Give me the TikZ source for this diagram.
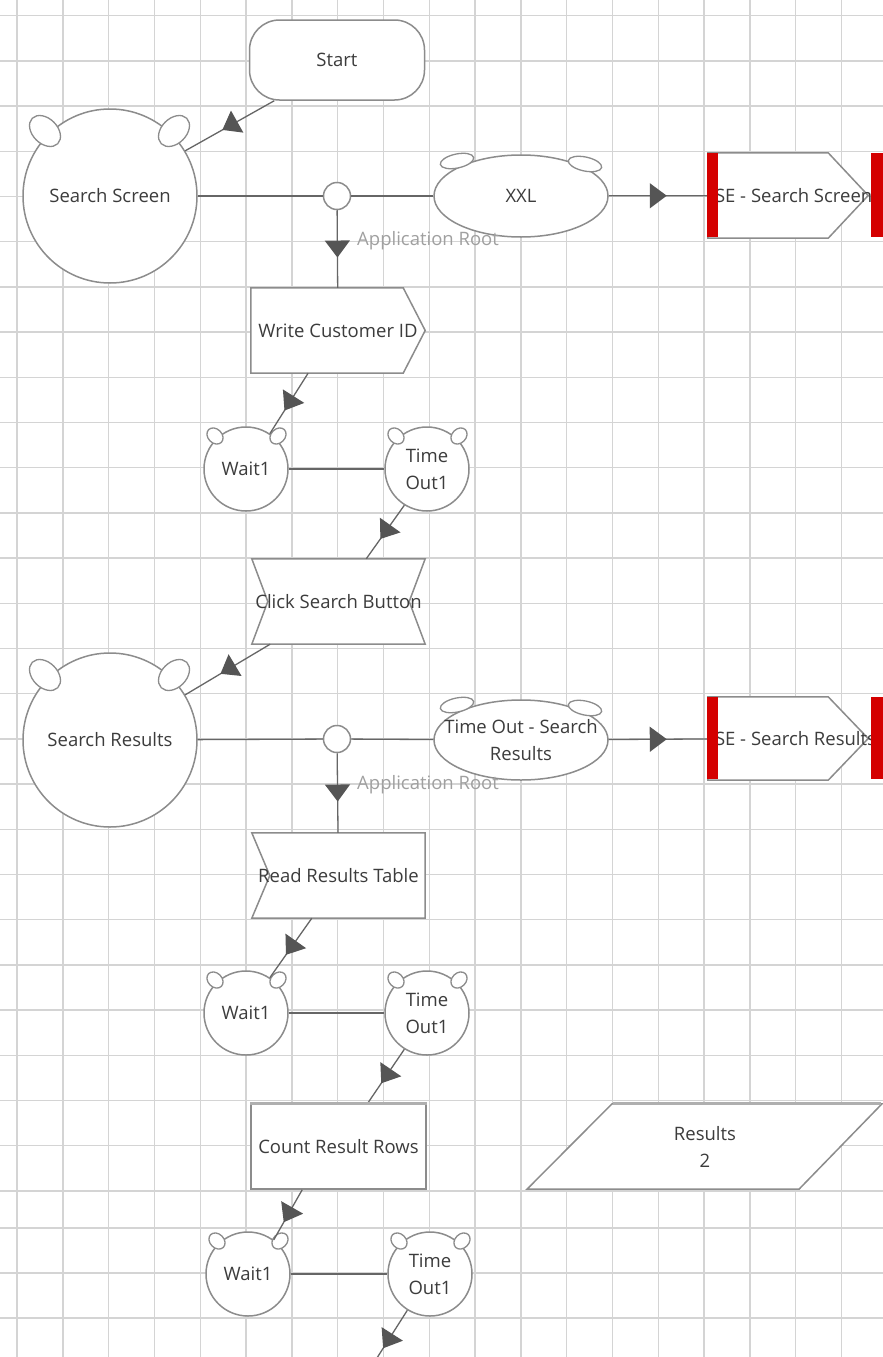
\documentclass[tikz,border=0pt]{standalone}
\usepackage{fontspec}
\setmainfont{Open Sans}
\usetikzlibrary{shapes.geometric,arrows.meta,decorations.markings,calc}
\definecolor{gridc}{HTML}{D4D4D4}
\definecolor{shapec}{HTML}{8C8C8C}
\definecolor{linec}{HTML}{666666}
\definecolor{tric}{HTML}{555555}
\definecolor{txtc}{HTML}{3C3C3C}
\definecolor{lblc}{HTML}{A0A0A0}
\definecolor{redbar}{HTML}{D40000}
\pgfdeclarelayer{gridl}
\pgfdeclarelayer{bgl}
\pgfdeclarelayer{frontl}
\pgfsetlayers{gridl,bgl,main,frontl}
\begin{document}
\begin{tikzpicture}[x=1pt,y=-1pt,
  every node/.style={font=\fontsize{18.5}{27}\selectfont, text=txtc},
  gridline/.style={draw=gridc, line width=1.4pt},
  shp/.style={draw=shapec, line width=1.5pt, fill=white, inner sep=0pt},
  shapeline/.style={draw=shapec, line width=1.5pt, fill=white, line join=miter},
  bigcirc/.style={shp, circle, minimum size=174pt},
  smallcirc/.style={shp, circle, minimum size=84pt, align=center},
  junc/.style={shp, circle, minimum size=27pt},
  bowl/.style={shp, ellipse, minimum width=174pt, minimum height=82pt, align=center},
  boxn/.style={inner sep=0pt, minimum width=174pt, minimum height=85pt, align=center},
  ear/.style={draw=shapec, line width=1.3pt, fill=white, ellipse, inner sep=0pt},
  bigear/.style={ear, minimum width=36pt, minimum height=25pt},
  smallear/.style={ear, minimum width=18pt, minimum height=14pt},
  flatear/.style={ear, minimum width=34pt, minimum height=14pt},
  conn/.style={draw=linec, line width=1.3pt},
  flow/.style={conn, postaction={decorate}, decoration={markings, mark=at position 0.5 with {\arrow[xshift=8.5pt]{Triangle[length=17pt,width=25pt,color=tric]}}}},
  lbl/.style={text=lblc, anchor=west, inner sep=0pt}
]
\useasboundingbox (0,0) rectangle (883,1357);
\begin{pgfonlayer}{gridl}
  \fill[white] (0,0) rectangle (883,1357);
  \foreach \i in {0,...,19} \draw[gridline] ({17+45.8*\i},0) -- ({17+45.8*\i},1357);
  \foreach \i in {0,...,26} \draw[gridline] (0,{15.6+45.2*\i}) -- (883,{15.6+45.2*\i});
  \foreach \yy in {1228,1273,1318} \draw[gridline] (0,\yy) -- (883,\yy);
\end{pgfonlayer}

% nodes
\node[shp, rectangle, rounded corners=30pt, minimum width=175pt, minimum height=80pt] (start) at (337,60) {Start};
\node[bigcirc] (ss) at (110,196) {Search Screen};
\node[junc] (j1) at (337,196) {};
\node[bowl] (xxl) at (521,196) {XXL};
\node[boxn, minimum width=160pt] (se1) at (788,195.5) {\makebox[158pt][l]{\hspace*{6pt}SE - Search Screen}};
\node[boxn] (wci) at (338,330.5) {Write Customer ID};
\node[smallcirc] (wait1) at (246,469) {Wait1};
\node[smallcirc] (to1) at (427,469) {Time\\Out1};
\node[boxn, minimum width=173pt] (csb) at (338.5,601.5) {Click Search Button};
\node[bigcirc] (sr) at (110,740) {Search Results};
\node[junc] (j2) at (337,739) {};
\node[bowl, minimum height=80pt, inner xsep=-16pt, inner ysep=-8pt] (tosr) at (521,740) {Time Out - Search\\Results};
\node[boxn, minimum width=160pt, minimum height=83pt] (se2) at (788,738.5) {\makebox[158pt][l]{\hspace*{6pt}SE - Search Results}};
\node[boxn, minimum width=173pt] (rrt) at (338.5,875.5) {Read Results Table};
\node[smallcirc] (wait2) at (246,1013) {Wait1};
\node[smallcirc] (to2) at (427,1013) {Time\\Out1};
\node[boxn, minimum width=175pt, draw=shapec, line width=1.5pt, fill=white] (crr) at (338.5,1146.5) {Count Result Rows};
\node[boxn, minimum width=270pt, text depth=0pt] (res) at (705,1146.5) {Results\\2};
\node[smallcirc] (wait3) at (248,1274) {Wait1};
\node[smallcirc] (to3) at (430,1274) {Time\\Out1};
\coordinate (endc) at (368,1372);

% ears
\foreach \c in {ss,sr} {
  \node[bigear, rotate=135] at ($(\c.center)+(-65,-65)$) {};
  \node[bigear, rotate=45] at ($(\c.center)+(64,-65)$) {};
}
\foreach \c in {wait1,to1,wait2,to2,wait3,to3} {
  \node[smallear, rotate=135] at ($(\c.center)+(-31,-33)$) {};
  \node[smallear, rotate=45] at ($(\c.center)+(32,-33)$) {};
}
\foreach \c in {xxl,tosr} {
  \node[flatear, rotate=12] at ($(\c.center)+(-64,-35)$) {};
  \node[flatear, rotate=-12] at ($(\c.center)+(64,-32)$) {};
}

% custom outlines
\begin{pgfonlayer}{bgl}
  \foreach \b in {se1,se2} {
    \draw[shapeline] (\b.north west) -- ($(\b.north east)+(-40,0)$) -- (\b.east) -- ($(\b.south east)+(-40,0)$) -- (\b.south west) -- cycle;
  }
  \draw[shapeline] (wci.north west) -- ($(wci.north east)+(-22,0)$) -- (wci.east) -- ($(wci.south east)+(-22,0)$) -- (wci.south west) -- cycle;
  \draw[shapeline] (csb.north west) -- (csb.north east) -- ($(csb.east)+(-16,0)$) -- (csb.south east) -- (csb.south west) -- ($(csb.west)+(16,0)$) -- cycle;
  \draw[shapeline] (rrt.north west) -- (rrt.north east) -- (rrt.south east) -- (rrt.south west) -- ($(rrt.west)+(18,0)$) -- cycle;
  \draw[shapeline] ($(res.north)+(-93,0)$) -- ($(res.north)+(177,0)$) -- ($(res.south)+(94,0)$) -- ($(res.south)+(-178,0)$) -- cycle;
\end{pgfonlayer}
\begin{pgfonlayer}{frontl}
  \foreach \b in {se1,se2} {
    \fill[redbar] ($(\b.north west)+(-1,0)$) rectangle ($(\b.south west)+(10,-1)$);
    \fill[redbar] ($(\b.north east)+(3,0)$) rectangle ($(\b.south east)+(20,-1)$);
  }
  \draw[draw=shapec!70, line width=3pt] ($(res.north)+(-92,0)$) -- ($(res.north)+(176,0)$);
  \draw[draw=shapec!70, line width=3pt] (crr.north west) -- (crr.north east);
\end{pgfonlayer}

% labels
\node[lbl] (ar1) at (357,241) {Application Root};
\node[lbl] (ar2) at (357,785) {Application Root};

% connectors
\draw[flow] (start.-147) -- (ss.31);
\draw[conn] (ss) -- (j1);
\draw[conn] (j1) -- (xxl);
\draw[flow] (xxl) -- (se1);
\draw[flow] (j1) -- (wci);
\draw[flow] (wci.-125) -- (wait1.56);
\draw[conn] (wait1) -- (to1);
\draw[flow] (to1.-122) -- (csb.57);
\draw[flow] (csb.-148) -- (sr.31);
\draw[conn] (sr) -- (j2);
\draw[conn] (j2) -- (tosr);
\draw[flow] (tosr) -- (se2);
\draw[flow] (j2) -- (rrt);
\draw[flow] (rrt.-122) -- (wait2.56);
\draw[conn] (wait2) -- (to2);
\draw[flow] (to2.-122) -- (crr.56);
\draw[flow] (crr.-130) -- (wait3.53);
\draw[conn] (wait3) -- (to3);
\draw[flow] (to3.-122) -- (endc);
\end{tikzpicture}
\end{document}
